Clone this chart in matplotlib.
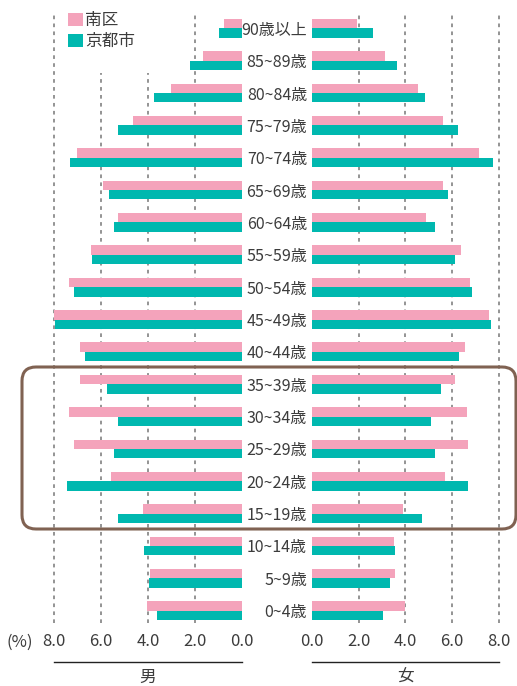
import numpy as np
import matplotlib
matplotlib.use("Agg")
import matplotlib.pyplot as plt
from matplotlib.patches import Patch, Rectangle, FancyBboxPatch

plt.rcParams['font.family'] = ['Noto Sans CJK JP', 'DejaVu Sans']

ages = ['90歳以上', '85~89歳', '80~84歳', '75~79歳', '70~74歳', '65~69歳',
        '60~64歳', '55~59歳', '50~54歳', '45~49歳', '40~44歳', '35~39歳',
        '30~34歳', '25~29歳', '20~24歳', '15~19歳', '10~14歳', '5~9歳', '0~4歳']

# percent of population
male_minami = [0.75, 1.65, 3.01, 4.63, 7.02, 5.91, 5.27, 6.42, 7.36, 7.98,
               6.89, 6.89, 7.36, 7.15, 5.57, 4.21, 3.91, 3.91, 4.04]
male_kyoto = [0.97, 2.20, 3.74, 5.27, 7.32, 5.66, 5.44, 6.38, 7.15, 7.97,
              6.68, 5.74, 5.27, 5.44, 7.45, 5.27, 4.16, 3.95, 3.61]
female_minami = [1.93, 3.13, 4.54, 5.61, 7.16, 5.61, 4.89, 6.39, 6.77, 7.59,
                 6.56, 6.13, 6.64, 6.69, 5.70, 3.90, 3.51, 3.56, 3.99]
female_kyoto = [2.61, 3.64, 4.84, 6.26, 7.76, 5.83, 5.27, 6.13, 6.86, 7.67,
                6.30, 5.53, 5.10, 5.27, 6.69, 4.71, 3.56, 3.34, 3.04]

ticks = [0, 2, 4, 6, 8]
tick_labels = ['0.0', '2.0', '4.0', '6.0', '8.0']
series_names = ['南区', '京都市']

PINK = '#F4A3BB'
TEAL = '#00B8AF'
BROWN = '#806252'
TXT = '#3c3c3c'
FS = 12

W, H = 517, 686
fig = plt.figure(figsize=(W / 100, H / 100), dpi=100)

top_px, bot_px = 12, 623
axL = fig.add_axes([54 / W, 1 - bot_px / H, 187.7 / W, (bot_px - top_px) / H])
axR = fig.add_axes([312 / W, 1 - bot_px / H, 186.7 / W, (bot_px - top_px) / H])

y = np.arange(len(ages))
bh = 0.29

for ax, a, b in [(axL, male_minami, male_kyoto), (axR, female_minami, female_kyoto)]:
    ax.barh(y - bh / 2, a, height=bh, color=PINK, zorder=2)
    ax.barh(y + bh / 2, b, height=bh, color=TEAL, zorder=2)
    ax.set_ylim(18.38, -0.505)
    ax.set_xticks(ticks)
    ax.set_xticklabels(tick_labels)
    ax.set_axisbelow(True)
    ax.grid(axis='x', color='#777777', linestyle=(0, (2.4, 2.8)), linewidth=1.1)
    for g in ax.xaxis.get_gridlines():
        g.set_clip_on(False)
    ax.xaxis.get_gridlines()[0].set_visible(False)
    for s in ax.spines.values():
        s.set_visible(False)
    ax.tick_params(axis='x', length=0, pad=7, labelsize=FS, labelcolor=TXT)
    ax.tick_params(axis='y', length=0)

axL.set_xlim(8.0, 0)
axR.set_xlim(0, 8.0)
axL.set_yticks([])
axR.set_yticks(y)
axR.set_yticklabels(ages)
axR.tick_params(axis='y', pad=3.6, labelsize=11.5, labelcolor=TXT)

# hide gridlines behind the legend
axL.add_patch(Rectangle((3.7, -0.6), 3.8, 1.98, facecolor='white',
                        edgecolor='none', zorder=1))

# axis titles under a black rule
for ax, name in [(axL, '男'), (axR, '女')]:
    sec = ax.secondary_xaxis((bot_px - 662) / (bot_px - top_px))
    sec.set_xticks([])
    sec.spines['bottom'].set_color('#222222')
    sec.spines['bottom'].set_linewidth(1.0)
    sec.set_xlabel(name, fontsize=FS, color=TXT, labelpad=5)

axL.text(-0.18, -0.031, '(%)', transform=axL.transAxes, ha='center', va='center',
         fontsize=FS, color=TXT)

handles = [Patch(facecolor=PINK), Patch(facecolor=TEAL)]
axL.legend(handles, series_names, loc='upper left',
           bbox_to_anchor=(68 / W, 1 - 12 / H), bbox_transform=fig.transFigure,
           frameon=False, borderpad=0, borderaxespad=0, fontsize=FS,
           handlelength=0.9, handleheight=0.85, handletextpad=0.15,
           labelspacing=0.25, labelcolor=TXT)

# highlight box around the 15-39 rows
box = FancyBboxPatch((0.22, (H - 529) / 100), 4.94, (529 - 367) / 100,
                     boxstyle='round,pad=0,rounding_size=0.14',
                     transform=fig.dpi_scale_trans, facecolor='none',
                     edgecolor=BROWN, linewidth=2.2, zorder=10)
fig.patches.append(box)

fig.savefig('out.png', dpi=100)
